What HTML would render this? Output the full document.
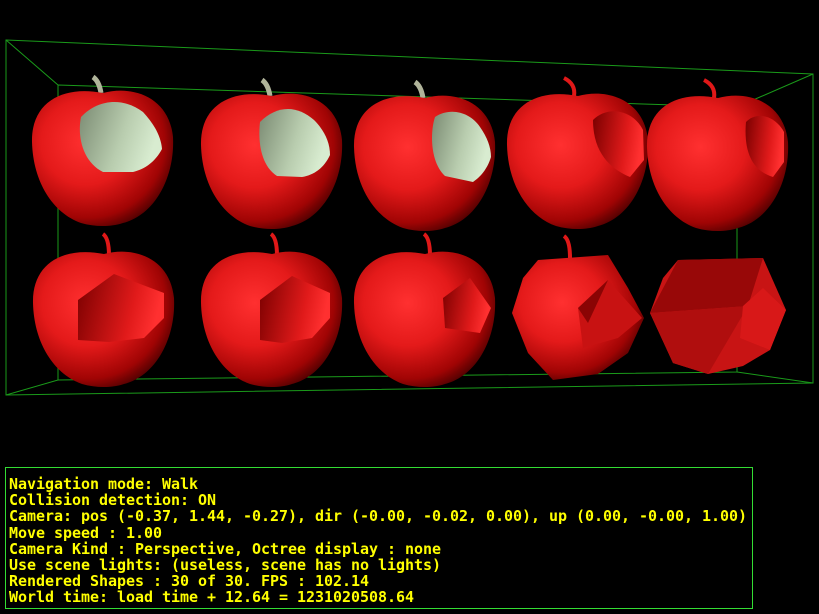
<!DOCTYPE html>
<html><head><meta charset="utf-8"><style>
html,body{margin:0;padding:0;background:#000;width:819px;height:614px;overflow:hidden}
#hud{position:absolute;left:5px;top:467px;width:748px;height:142px;border:1px solid #33dd33;box-sizing:border-box;
font-family:"DejaVu Sans Mono","Liberation Mono",monospace;font-weight:bold;font-size:15px;line-height:16.2px;color:#ffff00;padding:8px 0 0 3px;white-space:pre;letter-spacing:-0.03px}
</style></head><body>
<svg width="819" height="614" style="position:absolute;left:0;top:0">
<defs>
<radialGradient id="red" cx="0.38" cy="0.38" r="0.7">
<stop offset="0" stop-color="#ff3030"/><stop offset="0.45" stop-color="#e41a1a"/><stop offset="0.8" stop-color="#a00404"/><stop offset="1" stop-color="#3a0000"/></radialGradient>
<linearGradient id="cut" x1="0" y1="0" x2="1" y2="0.3">
<stop offset="0" stop-color="#7a8a72"/><stop offset="0.6" stop-color="#b8ccae"/><stop offset="1" stop-color="#d8ecd0"/></linearGradient>
<linearGradient id="cutr" x1="0" y1="0" x2="1" y2="0.2">
<stop offset="0" stop-color="#7a0000"/><stop offset="0.7" stop-color="#e01a1a"/><stop offset="1" stop-color="#ff3030"/></linearGradient>
<path id="body" d="M 0,-64 C 30,-72 66,-60 70,-20 C 72,20 52,58 20,66 C 8,70 -8,70 -22,66 C -50,56 -70,25 -71,-15 C -72,-55 -40,-72 0,-64 Z"/>
</defs>
<g fill="none" stroke="#1a9a1a" stroke-width="1">
<polygon points="6,40 813,74 813,383 6,395"/>
<polygon points="58,85 737,107 737,372 58,380"/>
<line x1="6" y1="40" x2="58" y2="85"/><line x1="813" y1="74" x2="737" y2="107"/>
<line x1="813" y1="383" x2="737" y2="372"/><line x1="6" y1="395" x2="58" y2="380"/>
</g>
<g transform="translate(103,157)">
<path d="M -2,-64 q -2,-12 -8,-16" stroke="#b0b49a" stroke-width="5" fill="none"/>
<use href="#body" fill="url(#red)"/><path d="M -22,-40 C -5,-58 20,-60 40,-45 C 52,-32 58,-20 59,-8 C 52,5 42,12 30,15 L 0,15 C -20,5 -26,-20 -22,-40 Z" fill="url(#cut)"/></g>
<g transform="translate(272,160)">
<path d="M -2,-64 q -2,-12 -8,-16" stroke="#b0b49a" stroke-width="5" fill="none"/>
<use href="#body" fill="url(#red)"/><path d="M -12,-38 C 5,-55 25,-55 42,-40 C 52,-30 58,-18 58,-5 C 52,8 42,15 30,17 L 5,16 C -12,5 -14,-20 -12,-38 Z" fill="url(#cut)"/></g>
<g transform="translate(425,162)">
<path d="M -2,-64 q -2,-12 -8,-16" stroke="#b0b49a" stroke-width="5" fill="none"/>
<use href="#body" fill="url(#red)"/><path d="M 10,-45 C 25,-55 45,-50 55,-35 C 62,-25 66,-15 66,-5 C 62,8 55,15 48,20 L 20,14 C 5,0 5,-30 10,-45 Z" fill="url(#cut)"/></g>
<g transform="translate(578,160)">
<path d="M -4,-64 q 2,-12 -10,-18" stroke="#e01818" stroke-width="4" fill="none"/>
<use href="#body" fill="url(#red)"/><path d="M 15,-40 C 30,-55 55,-50 65,-30 L 66,0 L 52,17 C 35,10 15,-5 15,-40 Z" fill="url(#cutr)"/></g>
<g transform="translate(718,162)">
<path d="M -4,-64 q 2,-12 -10,-18" stroke="#e01818" stroke-width="4" fill="none"/>
<use href="#body" fill="url(#red)"/><path d="M 28,-40 C 40,-52 58,-45 66,-30 L 66,0 L 55,15 C 38,10 25,-5 28,-40 Z" fill="url(#cutr)"/></g>
<g transform="translate(104,318)">
<path d="M 5,-62 q 0,-18 -6,-22" stroke="#e01818" stroke-width="4" fill="none"/>
<use href="#body" fill="url(#red)"/><path d="M -26,-18 L 10,-44 L 60,-25 L 60,0 L 40,20 L 5,24 L -26,22 Z" fill="url(#cutr)"/></g>
<g transform="translate(272,318)">
<path d="M 5,-62 q 0,-18 -6,-22" stroke="#e01818" stroke-width="4" fill="none"/>
<use href="#body" fill="url(#red)"/><path d="M -12,-18 L 20,-42 L 58,-25 L 58,0 L 40,20 L 10,25 L -12,22 Z" fill="url(#cutr)"/></g>
<g transform="translate(425,318)">
<path d="M 5,-62 q 0,-18 -6,-22" stroke="#e01818" stroke-width="4" fill="none"/>
<use href="#body" fill="url(#red)"/><path d="M 18,-20 L 45,-40 L 66,-10 L 55,15 L 20,10 Z" fill="url(#cutr)"/></g>
<g transform="translate(578,318)">
<path d="M -8,-60 q 0,-18 -6,-22" stroke="#e01818" stroke-width="4" fill="none"/>
<polygon points="-40,-58 30,-63 50,-30 66,0 50,35 20,56 -25,62 -50,35 -66,-5 -55,-40" fill="url(#red)"/>
<polygon points="0,-10 30,-38 64,0 40,20 5,30" fill="#c81212"/>
<polygon points="0,-10 30,-38 10,5" fill="#8a0404"/></g>
<g transform="translate(718,318)">
<polygon points="-40,-58 45,-60 68,-8 52,32 25,48 -10,56 -45,45 -68,-5 -55,-40" fill="#c81414"/>
<polygon points="-68,-5 -40,-58 45,-60 30,-12" fill="#980808"/>
<polygon points="-68,-5 30,-12 -10,56 -45,45" fill="#b00e0e"/>
<polygon points="25,-12 45,-30 68,-8 52,32 22,20" fill="#d81818"/></g>
</svg>
<div id="hud"><span>Navigation mode: Walk</span>
<span>Collision detection: ON</span>
<span>Camera: pos (-0.37, 1.44, -0.27), dir (-0.00, -0.02, 0.00), up (0.00, -0.00, 1.00)</span>
<span>Move speed : 1.00</span>
<span>Camera Kind : Perspective, Octree display : none</span>
<span>Use scene lights: (useless, scene has no lights)</span>
<span>Rendered Shapes : 30 of 30. FPS : 102.14</span>
<span>World time: load time + 12.64 = 1231020508.64</span></div>
</body></html>
